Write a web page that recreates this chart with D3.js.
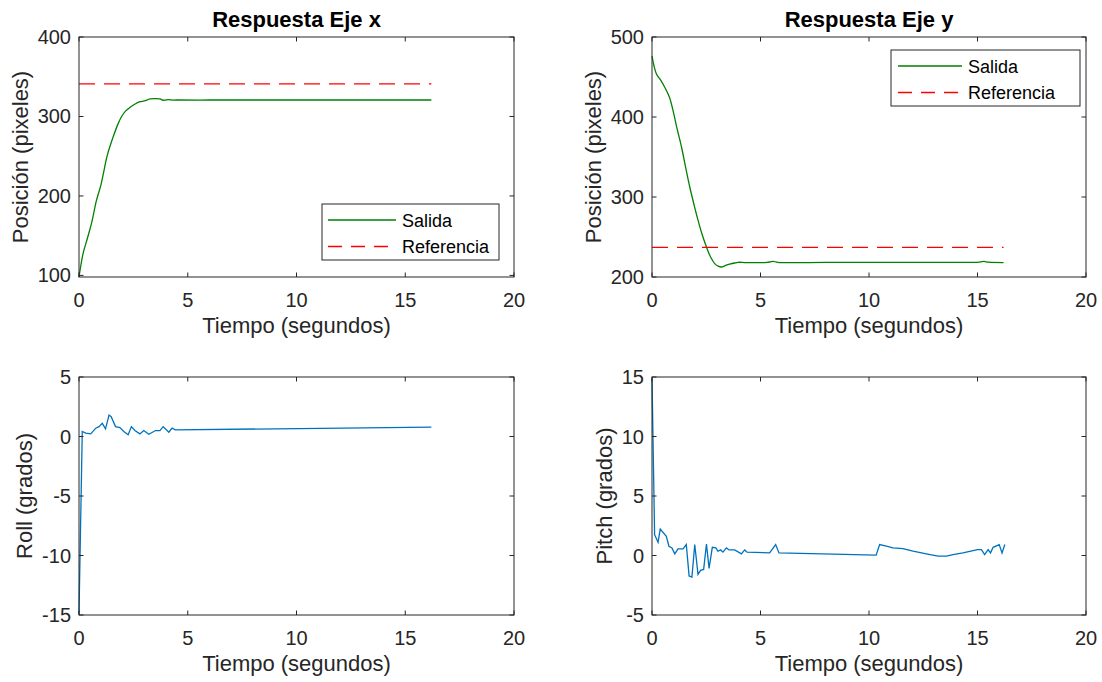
<!DOCTYPE html>
<html>
<head>
<meta charset="utf-8">
<script src="https://cdn.jsdelivr.net/npm/d3@7"></script>
<style>
  body { margin: 0; background: #fff; }
  svg { font-family: "Liberation Sans", Arial, Helvetica, sans-serif; }
  .tick-label { font-size: 20px; fill: #262626; }
  .axis-label { font-size: 22px; fill: #262626; }
  .title { font-size: 22px; font-weight: bold; fill: #000; }
  .legend-text { font-size: 18px; fill: #000; }
</style>
</head>
<body>
<svg class="chart" width="1102" height="682"></svg>
<script>
// ---- data ----
let timeTicks = [0, 5, 10, 15, 20];

// Respuesta Eje x
let tX = [0, 0.1, 0.2, 0.4, 0.58, 0.8, 1.0, 1.12, 1.3, 1.58, 1.8, 1.96, 2.15, 2.35, 2.6, 2.81,
          3.0, 3.27, 3.5, 3.73, 3.85, 3.96, 4.1, 4.2, 4.5, 6, 8, 10, 12, 14, 16.2];
let posX = [98, 115, 129, 148, 166, 194, 213, 228, 251, 275, 291, 300, 307, 311.5, 316, 318.6,
            319.5, 322, 322.5, 322, 320.5, 320.5, 321.3, 320.8, 320.7, 320.7, 320.7, 320.7, 320.7, 320.7, 320.7];
let refX = 341;
let posXTicks = [100, 200, 300, 400];

// Respuesta Eje y
let tY = [0, 0.2, 0.4, 0.58, 0.8, 0.97, 1.15, 1.36, 1.55, 1.74, 1.95, 2.12, 2.3, 2.51, 2.7, 2.89,
          3.05, 3.2, 3.4, 3.58, 3.8, 3.97, 4.35, 5.3, 5.58, 5.8, 8, 10, 12, 14, 15.1, 15.3, 15.5, 16.2];
let posY = [476, 454, 446, 437.5, 425, 408, 386, 362.5, 337, 312.5, 289, 271, 254, 237.5, 225, 216.7,
            213.5, 212.5, 214.5, 216, 217.5, 218.4, 218, 218.3, 219.6, 218.3, 218.3, 218.3, 218.3, 218.3, 218.5, 219.5, 218.5, 218];
let refY = 237;
let posYTicks = [200, 300, 400, 500];

// Roll
let tRoll = [0, 0.15, 0.31, 0.54, 0.77, 0.92, 1.07, 1.22, 1.38, 1.48, 1.68, 1.88, 2.06, 2.26, 2.41,
             2.57, 2.8, 2.98, 3.21, 3.52, 3.72, 3.87, 4.13, 4.28, 4.43, 16.2];
let roll = [-14.9, 0.42, 0.28, 0.22, 0.7, 0.83, 1.1, 0.64, 1.8, 1.67, 0.83, 0.75, 0.42, 0.14, 0.83,
            0.5, 0.22, 0.5, 0.19, 0.5, 0.5, 0.83, 0.36, 0.7, 0.56, 0.78];
let rollTicks = [-15, -10, -5, 0, 5];

// Pitch
let tPitch = [0, 0.12, 0.28, 0.38, 0.66, 0.78, 0.92, 1.05, 1.2, 1.43, 1.58, 1.71, 1.84, 1.97, 2.12,
              2.24, 2.38, 2.51, 2.63, 2.78, 2.94, 3.04, 3.16, 3.27, 3.43, 3.55, 3.81, 4.12, 4.27, 4.38,
              5.42, 5.7, 5.85, 10.33, 10.49, 10.8, 11.1, 11.57, 12.03, 12.64, 13.18, 13.57, 13.87, 14.33,
              15.0, 15.18, 15.33, 15.49, 15.6, 15.72, 16.0, 16.13, 16.26];
let pitch = [14.9, 1.75, 1.11, 2.22, 1.61, 0.78, 0.64, 0.14, 0.56, 0.56, 0.92, -1.72, -1.81, 0.92, -1.58,
             -1.25, -1.17, 0.97, -1.08, 0.69, 0.64, 0.36, 0.47, 0.28, 0.64, 0.47, 0.47, 0.14, 0.47, 0.28,
             0.22, 0.92, 0.22, 0.03, 0.92, 0.78, 0.64, 0.58, 0.36, 0.14, -0.06, -0.06, 0.08, 0.22,
             0.5, 0.5, 0.08, 0.5, 0.22, 0.69, 0.92, 0.22, 0.92];
let pitchTicks = [-5, 0, 5, 10, 15];

let tEnd = 16.2;

let green = "#008000";
let red = "#ff0000";
let blue = "#0072bd";
let axisColor = "#262626";

var svg = d3.select(".chart");

function zip(ts, vs) {
	return ts.map((t, i) => [t, vs[i]]);
}

function drawPanel(p) {
	let xScale = d3.scaleLinear().domain([0, 20]).range([p.left, p.right]);
	let yScale = d3.scaleLinear().domain(p.yDomain).range([p.bottom, p.top]);

	let g = svg.append("g");

	// series lines
	p.series.forEach(s => {
		let line = d3.line()
		             .x(d => xScale(d[0]))
		             .y(d => yScale(d[1]))
		             .curve(s.smooth ? d3.curveCatmullRom.alpha(0.5) : d3.curveLinear);
		g.append("path")
		 .datum(s.data)
		 .attr("fill", "none")
		 .attr("stroke", s.color)
		 .attr("stroke-width", 1.3)
		 .attr("stroke-dasharray", s.dash || null)
		 .attr("d", line);
	});

	// box + inward ticks on all four sides (matlab style)
	let tickLen = 4.5;
	g.append("rect")
	 .attr("x", p.left)
	 .attr("y", p.top)
	 .attr("width", p.right - p.left)
	 .attr("height", p.bottom - p.top)
	 .attr("fill", "none")
	 .attr("stroke", axisColor)
	 .attr("stroke-width", 1);

	timeTicks.forEach(t => {
		let x = xScale(t);
		g.append("line").attr("x1", x).attr("x2", x)
		 .attr("y1", p.bottom).attr("y2", p.bottom - tickLen)
		 .attr("stroke", axisColor);
		g.append("line").attr("x1", x).attr("x2", x)
		 .attr("y1", p.top).attr("y2", p.top + tickLen)
		 .attr("stroke", axisColor);
		g.append("text")
		 .attr("class", "tick-label")
		 .attr("text-anchor", "middle")
		 .attr("x", x)
		 .attr("y", p.bottom + 30)
		 .text(t);
	});

	let maxW = 0;
	p.yTicks.forEach(v => {
		let y = yScale(v);
		g.append("line").attr("x1", p.left).attr("x2", p.left + tickLen)
		 .attr("y1", y).attr("y2", y)
		 .attr("stroke", axisColor);
		g.append("line").attr("x1", p.right).attr("x2", p.right - tickLen)
		 .attr("y1", y).attr("y2", y)
		 .attr("stroke", axisColor);
		let txt = g.append("text")
		 .attr("class", "tick-label")
		 .attr("text-anchor", "end")
		 .attr("x", p.left - 8)
		 .attr("y", y + 7)
		 .text(v);
		maxW = Math.max(maxW, txt.node().getComputedTextLength());
	});

	// labels
	g.append("text")
	 .attr("class", "axis-label")
	 .attr("text-anchor", "middle")
	 .attr("x", (p.left + p.right) / 2)
	 .attr("y", p.bottom + 56)
	 .text("Tiempo (segundos)");

	g.append("text")
	 .attr("class", "axis-label")
	 .attr("text-anchor", "middle")
	 .attr("transform", `translate(${p.left - 8 - maxW - 10}, ${(p.top + p.bottom) / 2}) rotate(-90)`)
	 .text(p.yLabel);

	if (p.title) {
		g.append("text")
		 .attr("class", "title")
		 .attr("text-anchor", "middle")
		 .attr("x", (p.left + p.right) / 2)
		 .attr("y", 27)
		 .text(p.title);
	}

	if (p.legend) {
		let L = p.legend;
		g.append("rect")
		 .attr("x", L.x).attr("y", L.y)
		 .attr("width", L.w).attr("height", L.h)
		 .attr("fill", "#fff")
		 .attr("stroke", axisColor)
		 .attr("stroke-width", 1);
		L.items.forEach((it, i) => {
			let y = L.y + 16 + i * 26.5;
			g.append("line")
			 .attr("x1", L.x + L.lineX0).attr("x2", L.x + L.lineX1)
			 .attr("y1", y).attr("y2", y)
			 .attr("stroke", it.color)
			 .attr("stroke-width", 1.3)
			 .attr("stroke-dasharray", it.dash || null);
			g.append("text")
			 .attr("class", "legend-text")
			 .attr("x", L.x + L.lineX1 + 6)
			 .attr("y", y + 6.5)
			 .text(it.name);
		});
	}
}

let leftCol = {left: 79, right: 514};
let rightCol = {left: 652, right: 1086};
let topRow = {top: 37, bottom: 277};
let botRow = {top: 377, bottom: 615};
let dash = "16,9";

drawPanel({
	left: leftCol.left, right: leftCol.right, top: topRow.top, bottom: topRow.bottom,
	yDomain: [98, 400], yTicks: posXTicks,
	yLabel: "Posición (pixeles)",
	title: "Respuesta Eje x",
	series: [
		{data: zip([0, tEnd], [refX, refX]), color: red, dash: dash},
		{data: zip(tX, posX), color: green, smooth: true}
	],
	legend: {x: 322, y: 204, w: 177, h: 56, lineX0: 6, lineX1: 74,
	         items: [{name: "Salida", color: green}, {name: "Referencia", color: red, dash: "14,9"}]}
});

drawPanel({
	left: rightCol.left, right: rightCol.right, top: topRow.top, bottom: topRow.bottom,
	yDomain: [200, 500], yTicks: posYTicks,
	yLabel: "Posición (pixeles)",
	title: "Respuesta Eje y",
	series: [
		{data: zip(tY, posY), color: green, smooth: true},
		{data: zip([0, tEnd], [refY, refY]), color: red, dash: dash}
	],
	legend: {x: 891, y: 50, w: 189, h: 56, lineX0: 7, lineX1: 71,
	         items: [{name: "Salida", color: green}, {name: "Referencia", color: red, dash: "14,9"}]}
});

drawPanel({
	left: leftCol.left, right: leftCol.right, top: botRow.top, bottom: botRow.bottom,
	yDomain: [-15, 5], yTicks: rollTicks,
	yLabel: "Roll (grados)",
	series: [{data: zip(tRoll, roll), color: blue}]
});

drawPanel({
	left: rightCol.left, right: rightCol.right, top: botRow.top, bottom: botRow.bottom,
	yDomain: [-5, 15], yTicks: pitchTicks,
	yLabel: "Pitch (grados)",
	series: [{data: zip(tPitch, pitch), color: blue}]
});
</script>
</body>
</html>
